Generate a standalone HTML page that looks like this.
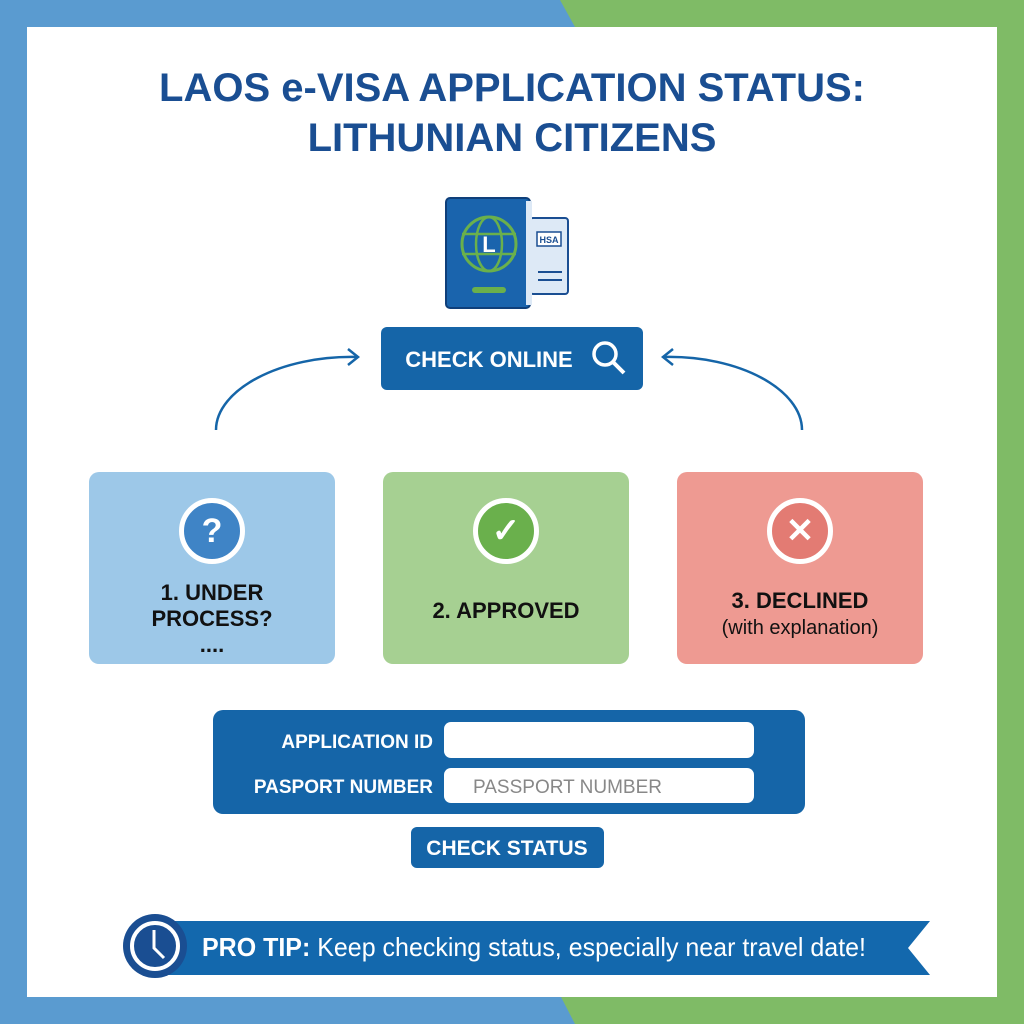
<!DOCTYPE html>
<html><head><meta charset="utf-8"><style>
*{margin:0;padding:0;box-sizing:border-box}
body{width:1024px;height:1024px;position:relative;overflow:hidden;font-family:"Liberation Sans",sans-serif;background:#5a9bd0}
.abs{position:absolute}
.t{font-weight:bold;color:#1a4e92;text-align:center;width:1024px;left:0;font-size:40px;line-height:50px}
.card{position:absolute;top:472px;width:246px;height:192px;border-radius:10px;text-align:center;font-weight:bold;font-size:22px;color:#111;line-height:26px}
.ic{width:66px;height:66px;border-radius:50%;border:5px solid #fff;margin:26px auto 0;display:flex;align-items:center;justify-content:center}
</style></head><body>
<svg class="abs" style="left:0;top:0" width="1024" height="1024"><polygon points="560,0 1024,0 1024,1024 575,1024 560,995" fill="#7fbb66"/><polygon points="0,0 560,0 575,27 560,27 0,27" fill="#5a9bd0"/></svg>
<div class="abs" style="left:27px;top:27px;width:970px;height:970px;background:#fff"></div>
<div class="abs t" style="top:63px">LAOS e-VISA APPLICATION STATUS:</div>
<div class="abs t" style="top:113px">LITHUNIAN CITIZENS</div>
<svg class="abs" style="left:0;top:0" width="1024" height="1024">
<rect x="530" y="218" width="38" height="76" rx="3" fill="#dde9f6" stroke="#1a4e92" stroke-width="2"/>
<rect x="537" y="232" width="24" height="14" fill="#fff" stroke="#1a4e92" stroke-width="1.5"/>
<text x="549" y="243" font-size="9" font-weight="bold" fill="#1a4e92" text-anchor="middle" font-family="Liberation Sans">HSA</text>
<line x1="538" y1="272" x2="562" y2="272" stroke="#1a4e92" stroke-width="2"/><line x1="538" y1="280" x2="562" y2="280" stroke="#1a4e92" stroke-width="2"/>
<rect x="446" y="198" width="84" height="110" rx="4" fill="#1a64ad" stroke="#0f3f7a" stroke-width="2"/>
<rect x="526" y="201" width="6" height="104" fill="#dde9f6"/>
<circle cx="489" cy="244" r="27" fill="none" stroke="#6ab04c" stroke-width="3"/>
<ellipse cx="489" cy="244" rx="13" ry="27" fill="none" stroke="#6ab04c" stroke-width="2.5"/>
<line x1="462" y1="234" x2="516" y2="234" stroke="#6ab04c" stroke-width="2.5"/><line x1="462" y1="254" x2="516" y2="254" stroke="#6ab04c" stroke-width="2.5"/>
<text x="489" y="252" font-size="22" font-weight="bold" fill="#fff" text-anchor="middle" font-family="Liberation Sans">L</text>
<rect x="472" y="287" width="34" height="6" rx="3" fill="#6ab04c"/>
<rect x="381" y="327" width="262" height="63" rx="6" fill="#1565a8"/>
<text x="489" y="367" font-size="22" font-weight="bold" fill="#fff" text-anchor="middle" font-family="Liberation Sans">CHECK ONLINE</text>
<circle cx="605" cy="354" r="11" fill="none" stroke="#fff" stroke-width="3.5"/><line x1="613" y1="362" x2="624" y2="373" stroke="#fff" stroke-width="4"/>
<path d="M216,430 C216,390 280,355 358,357" fill="none" stroke="#1565a8" stroke-width="2.5"/>
<polyline points="348,349 358,357 348,365" fill="none" stroke="#1565a8" stroke-width="2.5"/>
<path d="M802,430 C802,390 740,355 663,357" fill="none" stroke="#1565a8" stroke-width="2.5"/>
<polyline points="673,349 663,357 673,365" fill="none" stroke="#1565a8" stroke-width="2.5"/>
<rect x="213" y="710" width="592" height="104" rx="10" fill="#1565a8"/>
<rect x="444" y="722" width="310" height="36" rx="7" fill="#fff"/>
<rect x="444" y="768" width="310" height="35" rx="7" fill="#fff"/>
<text x="433" y="748" font-size="19" font-weight="bold" fill="#fff" text-anchor="end" font-family="Liberation Sans">APPLICATION ID</text>
<text x="433" y="793" font-size="19" font-weight="bold" fill="#fff" text-anchor="end" font-family="Liberation Sans">PASPORT NUMBER</text>
<text x="473" y="793" font-size="19" fill="#888" font-family="Liberation Sans">PASSPORT NUMBER</text>
<rect x="411" y="827" width="193" height="41" rx="6" fill="#1565a8"/>
<text x="507" y="855" font-size="21" font-weight="bold" fill="#fff" text-anchor="middle" font-family="Liberation Sans">CHECK STATUS</text>
<polygon points="150,921 930,921 908,948 930,975 150,975" fill="#1368ad"/>
<circle cx="155" cy="946" r="32" fill="#1a4e92"/><circle cx="155" cy="946" r="23" fill="#1a4e92" stroke="#fff" stroke-width="4"/>
<polyline points="154,930 154,948 164,958" fill="none" stroke="#fff" stroke-width="3"/>
<text x="202" y="956" font-size="26" fill="#fff" font-family="Liberation Sans" textLength="664" lengthAdjust="spacingAndGlyphs"><tspan font-weight="bold">PRO TIP:</tspan> Keep checking status, especially near travel date!</text>
</svg>
<div class="card" style="left:89px;background:#9dc8e8"><div class="ic" style="background:#3f84c6;color:#fff;font-size:34px">?</div><div style="margin-top:16px">1. UNDER<br>PROCESS?<br>....</div></div>
<div class="card" style="left:383px;background:#a6d092"><div class="ic" style="background:#6ab04c;color:#fff;font-size:34px">✓</div><div style="margin-top:34px">2. APPROVED</div></div>
<div class="card" style="left:677px;background:#ee9a92"><div class="ic" style="background:#e37b73;color:#fff;font-size:34px">✕</div><div style="margin-top:24px">3. DECLINED<br><span style="font-weight:normal;font-size:20px">(with explanation)</span></div></div>
</body></html>
